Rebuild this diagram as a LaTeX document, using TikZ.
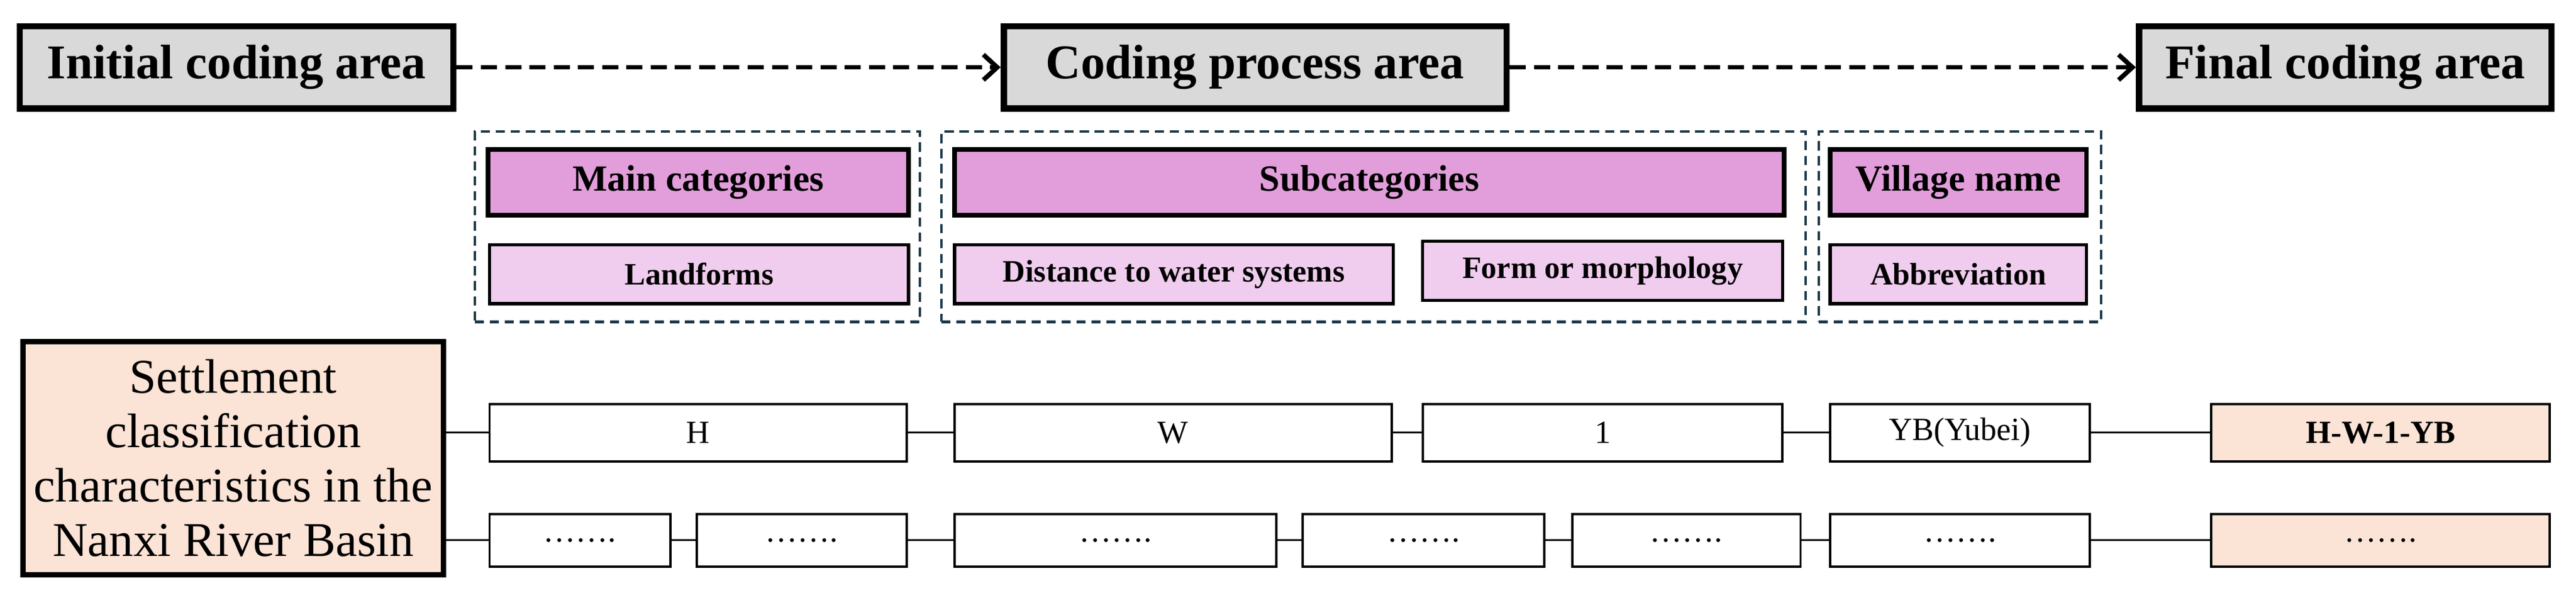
\documentclass[tikz,border=0pt]{standalone}
\usepackage{fontspec}
\setmainfont{Liberation Serif}
\usetikzlibrary{arrows.meta}
\definecolor{hg}{HTML}{D9D9D9}
\definecolor{pp}{HTML}{E29EDB}
\definecolor{lp}{HTML}{F0CDEE}
\definecolor{pc}{HTML}{FBE3D6}
\definecolor{dk}{HTML}{1F3A4A}
\newcommand{\bx}[7]{\node[#6,minimum width={(#4-#2)*0.05cm},minimum height={(#5-#3)*0.05cm}] (#1) at ({(#2+#4)/2},{(#3+#5)/2}) {#7};}
\begin{document}
\begin{tikzpicture}[x=0.05cm,y=-0.05cm,
 base/.style={draw,rectangle,inner sep=0pt,align=center},
 hdr/.style={base,fill=hg,line width=5.5pt,font=\fontsize{42}{48}\selectfont\bfseries},
 grp/.style={base,draw=dk,dashed,line width=2.2pt,dash pattern=on 8pt off 5pt},
 mc/.style={base,fill=pp,line width=4pt,font=\fontsize{32}{38}\selectfont\bfseries},
 sc/.style={base,fill=lp,line width=2.8pt,font=\fontsize{27}{32}\selectfont\bfseries},
 cell/.style={base,fill=white,line width=2pt,font=\fontsize{28}{32}\selectfont},
 fin/.style={cell,fill=pc},
 con/.style={line width=1.4pt},
 arr/.style={line width=4pt,dash pattern=on 14pt off 7pt,-{Straight Barb[length=12pt,width=22pt,line width=4pt]}}]
\useasboundingbox (0,0) rectangle (1568,360.8);
\bx{ini}{12}{16}{276}{66}{hdr}{Initial coding area}
\bx{cpa}{611}{16}{917}{66}{hdr}{Coding process area}
\bx{fca}{1302}{16}{1553}{66}{hdr}{Final coding area}
\draw[arr] (ini) -- (cpa);
\draw[arr] (cpa) -- (fca);
\bx{g1}{289}{80}{560}{196}{grp}{}
\bx{g2}{573}{80}{1099}{196}{grp}{}
\bx{g3}{1107}{80}{1279}{196}{grp}{}
\bx{mcat}{297}{91}{553}{131}{mc}{Main categories}
\bx{scat}{581}{91}{1086}{131}{mc}{Subcategories}
\bx{vn}{1114}{91}{1270}{131}{mc}{Village name}
\bx{lf}{298}{149}{553}{185}{sc}{Landforms}
\bx{dw}{581}{149}{848}{185}{sc}{Distance to water systems}
\bx{fm}{866}{147}{1085}{183}{sc}{Form or morphology}
\bx{ab}{1114}{149}{1270}{185}{sc}{Abbreviation}
\bx{set}{14}{208}{270}{350}{base,fill=pc,line width=5pt,font=\fontsize{42}{47}\selectfont}{Settlement\\classification\\characteristics in the\\Nanxi River Basin}
\bx{h}{298}{246}{552}{281}{cell}{H}
\bx{w}{581}{246}{847}{281}{cell}{W}
\bx{one}{866}{246}{1085}{281}{cell}{1}
\bx{yb}{1114}{246}{1272}{281}{cell}{YB(Yubei)}
\bx{res}{1346}{246}{1552}{281}{fin,font=\fontsize{28}{32}\selectfont\bfseries}{H-W-1-YB}
\bx{a1}{298}{313}{408}{345}{cell}{…….}
\bx{a2}{424}{313}{552}{345}{cell}{…….}
\bx{a3}{581}{313}{777}{345}{cell}{…….}
\bx{a4}{793}{313}{940}{345}{cell}{…….}
\bx{a5}{957}{313}{1096}{345}{cell}{…….}
\bx{a6}{1114}{313}{1272}{345}{cell}{…….}
\bx{a7}{1346}{313}{1552}{345}{fin}{…….}
\draw[con] (set.east |- h) -- (h) -- (w) -- (one) -- (yb) -- (res);
\draw[con] (set.east |- a1) -- (a1) -- (a2) -- (a3) -- (a4) -- (a5) -- (a6) -- (a7);
\end{tikzpicture}
\end{document}
